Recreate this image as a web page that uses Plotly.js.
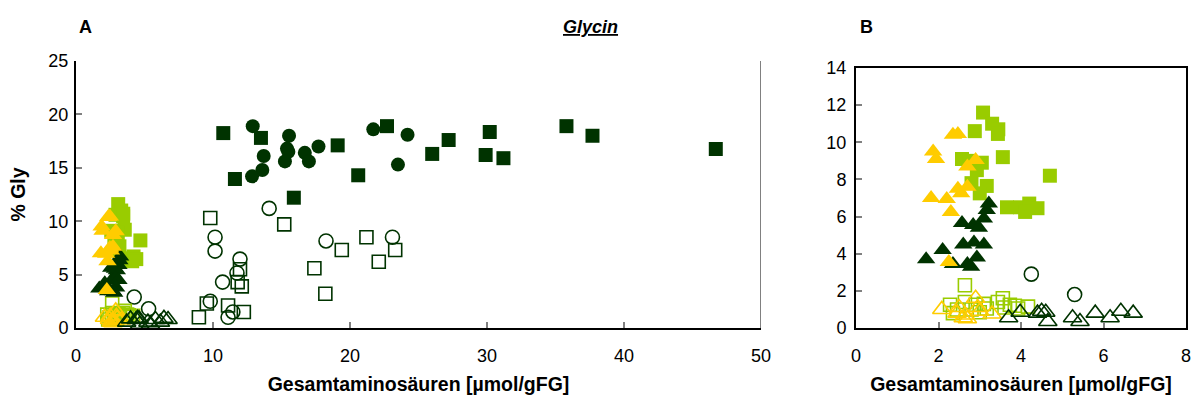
<!DOCTYPE html>
<html>
<head>
<meta charset="utf-8">
<script src="https://cdn.plot.ly/plotly-3.0.1.min.js"></script>
<style>html,body{margin:0;padding:0;background:#fff;}#chart{width:1196px;height:400px;}</style>
</head>
<body>
<div id="chart"></div>
<script>
// ---- data (x = Gesamtaminosäuren [µmol/gFG], y = % Gly) ----
const yellowFilledX = [2.35, 2.47, 1.87, 1.94, 2.9, 2.7, 2.47, 2.7, 2.55, 1.82, 2.2, 2.3, 2.25];
const yellowFilledY = [10.4, 10.45, 9.5, 9.1, 9.05, 8.7, 7.5, 7.6, 7.25, 7.0, 6.95, 6.25, 3.55];

const lightFilledX = [3.08, 3.3, 3.45, 2.88, 3.44, 3.56, 2.57, 2.75, 3.05, 2.93, 2.8, 3.17, 3.0, 3.66, 3.98, 4.2, 4.4, 4.1, 4.7];
const lightFilledY = [11.6, 11.0, 10.7, 10.6, 10.45, 9.2, 9.1, 9.0, 8.9, 8.5, 7.8, 7.65, 7.25, 6.5, 6.5, 6.7, 6.45, 6.25, 8.2];

const darkTriFilledX = [3.22, 3.17, 3.1, 2.57, 2.84, 2.98, 2.6, 2.86, 3.1, 1.7, 2.1, 2.7, 2.93, 2.79, 2.35];
const darkTriFilledY = [6.7, 6.35, 5.9, 5.65, 5.55, 5.4, 4.5, 4.6, 4.5, 3.7, 4.2, 3.45, 3.8, 3.3, 3.45];

const yellowOpenX = [2.08, 2.45, 2.5, 2.6, 2.65, 2.9, 2.95, 3.0, 3.3, 2.7];
const yellowOpenY = [1.0, 0.8, 1.1, 0.55, 0.7, 1.6, 1.1, 0.9, 0.75, 0.5];

const lightOpenX = [2.64, 2.28, 2.45, 2.64, 2.8, 2.9, 3.1, 3.17, 3.44, 3.56, 3.6, 3.73, 3.85, 3.93, 4.17, 2.35, 3.0];
const lightOpenY = [2.3, 1.25, 1.0, 1.4, 1.0, 1.25, 1.3, 1.05, 1.4, 1.6, 1.1, 1.25, 1.2, 1.05, 1.15, 0.8, 0.85];

const darkTriOpenX = [3.7, 3.98, 4.4, 4.5, 4.6, 4.65, 5.25, 5.43, 5.8, 6.16, 6.42, 6.72];
const darkTriOpenY = [0.55, 0.85, 0.8, 0.9, 0.85, 0.35, 0.55, 0.35, 0.8, 0.55, 0.9, 0.8];

const darkCircOpenX = [4.25, 5.3, 14.1, 10.15, 10.15, 18.25, 23.1, 11.97, 11.75, 10.7, 9.8, 11.45, 11.1];
const darkCircOpenY = [2.9, 1.8, 11.2, 8.5, 7.2, 8.15, 8.5, 6.45, 5.15, 4.3, 2.5, 1.5, 1.0];

const darkSqOpenX = [9.8, 15.2, 19.4, 21.2, 23.3, 22.1, 17.4, 18.2, 11.97, 11.8, 12.1, 9.55, 11.1, 12.25, 8.97];
const darkSqOpenY = [10.3, 9.7, 7.3, 8.5, 7.3, 6.2, 5.6, 3.2, 5.5, 4.3, 3.9, 2.3, 2.1, 1.5, 1.0];

const darkCircFilledX = [12.9, 15.55, 13.7, 15.4, 15.5, 15.25, 16.7, 17.0, 17.7, 21.7, 24.2, 23.5, 13.6, 12.85];
const darkCircFilledY = [18.9, 18.0, 16.1, 16.8, 16.5, 15.6, 16.4, 15.6, 17.0, 18.6, 18.1, 15.3, 14.8, 14.2];

const darkSqFilledX = [10.75, 13.5, 11.6, 19.1, 22.7, 27.2, 26.0, 20.6, 15.9, 30.2, 29.9, 31.2, 35.8, 37.7, 46.7];
const darkSqFilledY = [18.25, 17.8, 13.95, 17.1, 18.9, 17.6, 16.3, 14.3, 12.2, 18.35, 16.2, 15.9, 18.9, 18.0, 16.76];

const xTicksA = [0, 10, 20, 30, 40, 50];
const yTicksA = [0, 5, 10, 15, 20, 25];
const xTicksB = [0, 2, 4, 6, 8];
const yTicksB = [0, 2, 4, 6, 8, 10, 12, 14];

// ---- styles ----
const DARK = '#003300', LIGHT = '#99CC00', YELLOW = '#FFCC00';
const SZ = 14;
const TRI = 16;
const series = [
  {x: darkCircOpenX, y: darkCircOpenY, symbol: 'circle-open', color: DARK, size: SZ},
  {x: darkSqOpenX, y: darkSqOpenY, symbol: 'square-open', color: DARK, size: SZ - 1},
  {x: lightOpenX, y: lightOpenY, symbol: 'square-open', color: LIGHT, size: SZ - 1},
  {x: yellowOpenX, y: yellowOpenY, symbol: 'triangle-up-open', color: YELLOW, size: TRI},
  {x: darkTriOpenX, y: darkTriOpenY, symbol: 'triangle-up-open', color: DARK, size: TRI},
  {x: lightFilledX, y: lightFilledY, symbol: 'square', color: LIGHT, size: SZ},
  {x: darkTriFilledX, y: darkTriFilledY, symbol: 'triangle-up', color: DARK, size: TRI},
  {x: yellowFilledX, y: yellowFilledY, symbol: 'triangle-up', color: YELLOW, size: TRI},
  {x: darkCircFilledX, y: darkCircFilledY, symbol: 'circle', color: DARK, size: SZ},
  {x: darkSqFilledX, y: darkSqFilledY, symbol: 'square', color: DARK, size: SZ}
];

const traces = [];
[['x', 'y'], ['x2', 'y2']].forEach(([xa, ya]) => {
  series.forEach(s => {
    const open = s.symbol.endsWith('-open');
    traces.push({
      type: 'scatter', mode: 'markers', xaxis: xa, yaxis: ya,
      x: s.x, y: s.y, cliponaxis: true, hoverinfo: 'skip',
      marker: {symbol: s.symbol, size: s.size, color: s.color,
               line: {color: s.color, width: open ? 1.6 : 0}}
    });
  });
});

const FONT = 'Liberation Sans, Arial, sans-serif';
const tickFont = {family: FONT, size: 18, color: '#000'};
const titleFont = {family: FONT, size: 19.5, color: '#000', weight: 'bold'};

function axis(extra) {
  return Object.assign({
    showgrid: false, zeroline: false, showline: true, linecolor: '#000', linewidth: 2,
    ticks: 'inside', ticklen: 6, tickwidth: 2, tickcolor: '#808080',
    tickfont: tickFont, automargin: false, fixedrange: true
  }, extra);
}

const layout = {
  width: 1196, height: 400,
  margin: {l: 0, r: 0, t: 0, b: 0},
  paper_bgcolor: '#fff', plot_bgcolor: '#fff',
  showlegend: false, hovermode: false,
  font: {family: FONT, color: '#000'},
  xaxis: axis({domain: [76/1196, 761/1196], range: [0, 50], tickvals: xTicksA, anchor: 'y',
    ticklabelstandoff: 10,
    title: {text: '<b>Gesamtaminosäuren [µmol/gFG]</b>', font: titleFont, standoff: 13}}),
  yaxis: axis({domain: [72/400, 339/400], range: [0, 25], tickvals: yTicksA, anchor: 'x',
    ticklabelstandoff: 2,
    title: {text: '<b>% Gly</b>', font: titleFont, standoff: 18}}),
  xaxis2: axis({domain: [856/1196, 1186/1196], range: [0, 8], tickvals: xTicksB, anchor: 'y2', mirror: true,
    ticklabelstandoff: 10,
    title: {text: '<b>Gesamtaminosäuren [µmol/gFG]</b>', font: titleFont, standoff: 13}}),
  yaxis2: axis({domain: [72/400, 332/400], range: [0, 14], tickvals: yTicksB, anchor: 'x2', mirror: true,
    ticklabelstandoff: 4}),
  shapes: [
    {type: 'line', xref: 'x', yref: 'y', x0: 50, x1: 50, y0: 0, y1: 25,
     line: {color: '#808080', width: 2}}
  ],
  annotations: [
    {text: '<b>A</b>', xref: 'paper', yref: 'paper', x: 85/1196, y: 373/400, showarrow: false,
     font: {family: FONT, size: 18, color: '#000'}, xanchor: 'center', yanchor: 'middle'},
    {text: '<b><i><u>Glycin</u></i></b>', xref: 'paper', yref: 'paper', x: 590/1196, y: 373/400, showarrow: false,
     font: {family: FONT, size: 18, color: '#000'}, xanchor: 'center', yanchor: 'middle'},
    {text: '<b>B</b>', xref: 'paper', yref: 'paper', x: 866/1196, y: 373/400, showarrow: false,
     font: {family: FONT, size: 18, color: '#000'}, xanchor: 'center', yanchor: 'middle'}
  ]
};

Plotly.newPlot('chart', traces, layout, {staticPlot: true, displayModeBar: false});
</script>
</body>
</html>
